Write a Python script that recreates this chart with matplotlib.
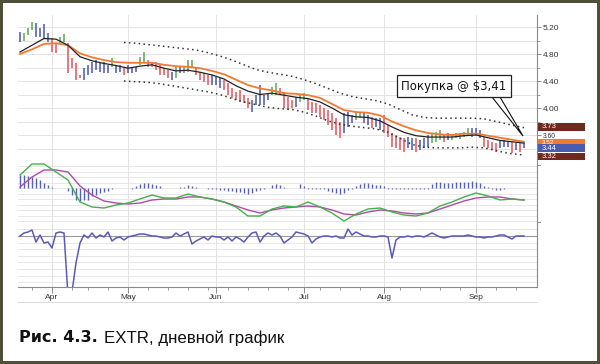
import matplotlib
matplotlib.use("Agg")
import matplotlib.pyplot as plt
import matplotlib.transforms as mtransforms
from matplotlib.patches import Rectangle, Polygon
from matplotlib.lines import Line2D

# ---------------- data ----------------
bar_high = [5.13, 5.11, 5.19, 5.27, 5.26, 5.19, 5.24, 5.11, 5.04, 4.96,
            5.05, 5.10, 4.96, 4.74, 4.67, 4.49, 4.59, 4.64, 4.68, 4.71,
            4.67, 4.68, 4.64, 4.74, 4.64, 4.64, 4.61, 4.64, 4.61, 4.61,
            4.76, 4.83, 4.71, 4.68, 4.68, 4.64, 4.59, 4.56, 4.53, 4.61,
            4.61, 4.61, 4.71, 4.71, 4.61, 4.53, 4.52, 4.49, 4.49, 4.46,
            4.46, 4.41, 4.37, 4.30, 4.24, 4.27, 4.19, 4.15, 4.12, 4.19,
            4.34, 4.19, 4.22, 4.31, 4.37, 4.30, 4.24, 4.16, 4.12, 4.16,
            4.19, 4.22, 4.15, 4.09, 4.07, 4.04, 4.00, 3.97, 3.93, 3.85,
            3.79, 3.93, 3.94, 3.90, 3.94, 3.94, 3.93, 3.90, 3.87, 3.85,
            3.85, 3.90, 3.75, 3.63, 3.60, 3.57, 3.56, 3.57, 3.56, 3.56,
            3.53, 3.56, 3.60, 3.63, 3.64, 3.67, 3.60, 3.63, 3.60, 3.63,
            3.63, 3.64, 3.70, 3.70, 3.70, 3.67, 3.57, 3.53, 3.50, 3.48,
            3.53, 3.53, 3.50, 3.50, 3.48, 3.48, 3.48]
bar_low = [4.98, 4.99, 5.08, 5.16, 5.05, 5.05, 5.02, 4.98, 4.83, 4.81,
           4.96, 4.98, 4.52, 4.59, 4.41, 4.44, 4.41, 4.49, 4.52, 4.56,
           4.53, 4.52, 4.52, 4.61, 4.52, 4.53, 4.49, 4.52, 4.52, 4.53,
           4.64, 4.67, 4.61, 4.61, 4.56, 4.49, 4.49, 4.44, 4.41, 4.44,
           4.52, 4.52, 4.53, 4.61, 4.49, 4.41, 4.39, 4.34, 4.34, 4.34,
           4.30, 4.27, 4.19, 4.15, 4.12, 4.09, 4.07, 4.00, 3.94, 4.04,
           4.04, 4.04, 4.12, 4.19, 4.19, 4.19, 4.00, 3.97, 4.00, 4.01,
           4.09, 4.12, 3.97, 3.93, 3.93, 3.87, 3.82, 3.75, 3.67, 3.60,
           3.56, 3.63, 3.72, 3.78, 3.82, 3.85, 3.78, 3.75, 3.70, 3.72,
           3.67, 3.63, 3.57, 3.42, 3.41, 3.38, 3.35, 3.41, 3.38, 3.35,
           3.38, 3.41, 3.42, 3.48, 3.50, 3.53, 3.50, 3.53, 3.53, 3.56,
           3.54, 3.57, 3.60, 3.57, 3.60, 3.56, 3.42, 3.41, 3.38, 3.35,
           3.41, 3.42, 3.42, 3.33, 3.38, 3.35, 3.41]
bar_color = list("BGGGBBBBRR" "GGRRRRBBBB" "BBBGBBRBBB" "GGRRRRRRBG"
                 "BGGGRRRRBB" "BRRRRRRRBB" "BBBGGRRRRB" "GGRRRRRRRR"
                 "RBBBGGBBRB" "BRRRRRRBBR" "BBBGGGRBGG" "GGGBBBRRRR"
                 "BBBRBRB")

# moving averages sampled every 3rd session
ma_days = list(range(0, 127, 3))
ma_fast = [4.83, 4.93, 5.03, 5.02, 4.93, 4.76, 4.70, 4.66, 4.63, 4.59,
           4.62, 4.64, 4.59, 4.55, 4.56, 4.53, 4.49, 4.43, 4.33, 4.25,
           4.20, 4.22, 4.19, 4.16, 4.14, 4.09, 4.00, 3.90, 3.87, 3.86,
           3.81, 3.72, 3.64, 3.59, 3.57, 3.57, 3.57, 3.59, 3.60, 3.56,
           3.52, 3.50, 3.48]
ma_slow = [4.80, 4.87, 4.95, 4.96, 4.93, 4.81, 4.75, 4.71, 4.68, 4.67,
           4.67, 4.67, 4.64, 4.62, 4.61, 4.59, 4.55, 4.50, 4.42, 4.34,
           4.29, 4.26, 4.22, 4.21, 4.19, 4.15, 4.06, 3.97, 3.94, 3.93,
           3.89, 3.80, 3.73, 3.67, 3.63, 3.61, 3.60, 3.62, 3.62, 3.59,
           3.56, 3.53, 3.50]

env_days = list(range(26, 127, 3)) + [126]
env_upper = [4.97, 4.96, 4.94, 4.92, 4.90, 4.88, 4.86, 4.82, 4.77, 4.71,
             4.64, 4.57, 4.53, 4.50, 4.47, 4.42, 4.36, 4.29, 4.22, 4.17,
             4.14, 4.11, 4.06, 3.98, 3.90, 3.86, 3.85, 3.85, 3.85, 3.85,
             3.84, 3.80, 3.76, 3.72, 3.71]
env_lower = [4.40, 4.39, 4.38, 4.36, 4.33, 4.30, 4.27, 4.24, 4.20, 4.14,
             4.09, 4.05, 4.01, 3.99, 3.98, 3.94, 3.88, 3.81, 3.76, 3.73,
             3.71, 3.69, 3.64, 3.55, 3.46, 3.42, 3.41, 3.41, 3.41, 3.42,
             3.41, 3.37, 3.33, 3.31, 3.30]

osc_fast = [0.13, 0.24, 0.24, 0.16, 0.08, -0.14, -0.19, -0.20, -0.17, -0.15,
            -0.11, -0.07, -0.10, -0.10, -0.06, -0.09, -0.11, -0.14, -0.19, -0.28,
            -0.28, -0.21, -0.18, -0.19, -0.14, -0.19, -0.25, -0.33, -0.26, -0.21,
            -0.20, -0.24, -0.27, -0.28, -0.25, -0.18, -0.14, -0.09, -0.05, -0.08,
            -0.12, -0.11, -0.12]
osc_slow = [0.01, 0.11, 0.18, 0.18, 0.16, 0.02, -0.07, -0.13, -0.15, -0.16,
            -0.15, -0.12, -0.11, -0.11, -0.09, -0.09, -0.11, -0.14, -0.18, -0.22,
            -0.25, -0.22, -0.20, -0.19, -0.18, -0.19, -0.22, -0.26, -0.27, -0.24,
            -0.22, -0.23, -0.25, -0.26, -0.25, -0.21, -0.17, -0.13, -0.10, -0.09,
            -0.09, -0.11, -0.12]
hist = [0.13, 0.13, 0.12, 0.11, 0.10, 0.08, 0.05, 0.03, 0.01, 0.005,
        0.005, 0.005, -0.03, -0.07, -0.12, -0.13, -0.12, -0.12, -0.08, -0.07,
        -0.05, -0.04, -0.03, -0.01, 0.005, 0.005, 0.005, 0.005, -0.005, 0.02,
        0.04, 0.05, 0.05, 0.04, 0.03, 0.02, 0.005, 0.005, 0.005, 0.005,
        0.01, 0.01, 0.03, 0.02, 0.01, 0.005, 0.005, -0.01, -0.01, -0.01,
        -0.02, -0.02, -0.03, -0.03, -0.04, -0.04, -0.05, -0.06, -0.05, -0.03,
        -0.02, -0.01, 0.005, 0.03, 0.04, 0.03, 0.01, 0.005, 0.005, 0.005,
        0.04, 0.02, -0.01, -0.01, -0.01, -0.01, -0.01, -0.03, -0.04, -0.05,
        -0.06, -0.05, -0.02, -0.005, 0.02, 0.04, 0.05, 0.05, 0.04, 0.03,
        0.03, 0.02, -0.005, -0.01, -0.01, -0.01, -0.01, -0.01, -0.01, -0.01,
        -0.005, -0.005, -0.005, 0.04, 0.06, 0.06, 0.05, 0.05, 0.05, 0.06,
        0.06, 0.06, 0.06, 0.07, 0.06, 0.05, 0.02, 0.01, -0.01, -0.02,
        -0.02, -0.01, 0.005, 0.005, 0.005, 0.005, 0.005]

roc = [0, 1.5, 2, 3, -3, 0.5, -3.5, -3, -6, 1.5,
       2, 1.5, -30, -28, -13.5, -3.5, 0.5, -1, 1.5, -1,
       0.5, -0.5, 2, -2.5, -1, -0.5, -2, -0.5, 0, 0.5,
       1, 1, 0.5, 0, 0, -0.5, -1, -1, -0.5, 1.5,
       0, 1, 2, -4, -2.5, -1.5, -0.5, -2, 0, -0.5,
       -0.5, -2, -0.5, -2.5, -0.5, -1.5, -3, -0.5, 1.5, 2,
       -3, 0, 1.5, 0.5, 1.5, 0, -3.5, -2, -0.5, 2,
       1.5, 1, 0, -3.5, -1.5, -0.5, 0, 0, -0.5, 0,
       -1, -1, 3.5, 0.5, 2, 1, 0, 0, -0.5, -0.5,
       0, 0, -0.5, -11, -2, -0.5, -0.5, 0, -0.5, 0,
       0, -0.5, 0.5, 1.5, 0.5, -0.5, -1, -0.5, 0, 0,
       0, 0, 0.5, 0, -0.5, -0.5, -1, -0.5, -0.5, 0,
       0.5, 0.5, -0.5, -1.5, 0, 0, 0]

month_days = [8, 27, 49, 71, 91, 114]
month_labels = ["Apr", "May", "Jun", "Jul", "Aug", "Sep"]
week_days = [3, 13, 17, 22, 32, 37, 42, 47, 52, 57, 62, 67, 75, 80, 85,
             95, 100, 105, 110, 119, 124]
price_ticks = [3.60, 4.00, 4.40, 4.80, 5.20]
price_minor = [3.40, 3.80, 4.20, 4.60, 5.00]
last_labels = [3.73, 3.52, 3.44, 3.32]
note_text = "Покупка @ $3,41"
caption_bold = "Рис. 4.3."
caption_rest = "EXTR, дневной график"

# ---------------- styling ----------------
W, H = 600, 364
plt.rcParams["font.family"] = ["Liberation Sans", "DejaVu Sans"]
fig = plt.figure(figsize=(W / 100, H / 100), dpi=100)
fig.patch.set_facecolor("white")


def frect(x0, y0, x1, y1):
    return [x0 / W, 1 - y1 / H, (x1 - x0) / W, (y1 - y0) / H]


ax1 = fig.add_axes(frect(18, 15, 537, 165))
ax2 = fig.add_axes(frect(18, 165, 537, 222))
ax3 = fig.add_axes(frect(18, 222, 537, 287))

XL = (-0.5, 129.25)
grid_c = "#e3e3e3"
axis_c = "#8a8a8a"
colmap = {"B": "#4a56aa", "R": "#e0545c", "G": "#55a955"}

for ax in (ax1, ax2, ax3):
    ax.set_xlim(*XL)
    ax.set_facecolor("none")
    for s in ("left", "top"):
        ax.spines[s].set_visible(False)
    ax.spines["right"].set_color(axis_c)
    ax.spines["right"].set_linewidth(0.8)
    ax.set_xticks(month_days)
    ax.grid(axis="x", color=grid_c, lw=0.7)
    ax.set_axisbelow(True)

for ax in (ax1, ax2):
    ax.spines["bottom"].set_visible(False)
    ax.tick_params(axis="x", length=0, labelbottom=False)

# ---- price panel ----
ax1.set_ylim(3.156, 5.378)
ax1.yaxis.tick_right()
ax1.set_yticks(price_ticks)
ax1.set_yticks(price_minor, minor=True)
ax1.set_yticklabels([f"{v:.2f}" for v in price_ticks])
ax1.tick_params(axis="y", which="major", labelsize=6, colors=axis_c,
                labelcolor="#333333", length=3, width=0.7, pad=1)
ax1.tick_params(axis="y", which="minor", colors=axis_c, length=2, width=0.6)
ax1.grid(axis="y", which="both", color=grid_c, lw=0.7)
# lowest tick label is squeezed between the value boxes
ax1.get_yticklabels()[0].set_fontsize(4.8)

cols = [colmap[c] for c in bar_color]
ax1.vlines(range(len(bar_high)), bar_low, bar_high, colors=cols, lw=1.1, zorder=3)
ax1.plot(env_days, env_upper, color="#333333", lw=1.1, ls=(0, (1, 2.2)), zorder=3)
ax1.plot(env_days, env_lower, color="#333333", lw=1.1, ls=(0, (1, 2.2)), zorder=3)
ax1.plot(ma_days, ma_slow, color="#f07a32", lw=1.3, zorder=4)
ax1.plot(ma_days, ma_fast, color="#222222", lw=0.9, zorder=4)

# price labels on right (box centre offset px, box height px, font size)
ytr = mtransforms.blended_transform_factory(ax1.transAxes, ax1.transData)
box_styles = [("#6e2a1c", 0.3, 8.0, 5.5), ("#f07a32", 1.6, 5.5, 4.6),
              ("#4a5cb0", 2.4, 7.6, 5.5), ("#6e2a1c", 2.6, 7.6, 5.5)]
for val, (fc, off, hpx, fs) in zip(last_labels, box_styles):
    tr = ytr + mtransforms.ScaledTranslation(0, -off / 100, fig.dpi_scale_trans)
    ax1.add_patch(Rectangle((1.0019, val - hpx / 2 / 67.5), 0.0906, hpx / 67.5,
                            transform=tr, facecolor=fc, edgecolor="none",
                            clip_on=False, zorder=6))
    ax1.text(1.009, val, f"{val:.2f}", transform=tr, color="white", fontsize=fs,
             va="center", ha="left", clip_on=False, zorder=7)

# annotation
ax1.add_patch(Polygon([(118, 4.163), (125.75, 3.585), (120, 4.163)], closed=True,
                      facecolor="white", edgecolor="#111111", lw=0.8, zorder=7))
ax1.text(108.5, 4.325, note_text, ha="center", va="center", fontsize=8.5,
         family="DejaVu Sans", color="#111111", zorder=8,
         bbox=dict(boxstyle="square,pad=0.4", fc="white", ec="#222222", lw=0.9))

# ---- oscillator panel ----
ax2.set_ylim(-0.34, 0.23)
ax2.set_yticks([0.22 - 0.055 * k for k in range(11)])
ax2.tick_params(axis="y", length=0, labelleft=False, labelright=False)
ax2.grid(axis="y", color=grid_c, lw=0.6)
ax2.vlines(range(len(hist)), 0, hist, colors="#5560b0", lw=1.0, zorder=3)
ax2.plot(ma_days, osc_slow, color="#b04aa8", lw=1.0, zorder=4, clip_on=False)
ax2.plot(ma_days, osc_fast, color="#45b04a", lw=1.0, zorder=4, clip_on=False)

# ---- ROC panel ----
ax3.set_ylim(-25.5, 7)
ax3.set_yticks([3.3 - 3.3 * k for k in range(9) if k != 1])
ax3.tick_params(axis="y", length=0, labelleft=False, labelright=False)
ax3.grid(axis="y", color=grid_c, lw=0.6)
ax3.axhline(0, color="#9a9a9a", lw=0.8, zorder=2)
ax3.plot(range(len(roc)), roc, color="#5a5ab8", lw=1.1, zorder=4)
ax3.spines["bottom"].set_color(axis_c)
ax3.spines["bottom"].set_linewidth(0.8)
ax3.set_xticklabels(month_labels)
ax3.set_xticks(week_days, minor=True)
ax3.tick_params(axis="x", which="major", length=4, width=0.7, colors=axis_c,
                labelcolor="#333333", labelsize=6, pad=1)
ax3.tick_params(axis="x", which="minor", length=2.5, width=0.6, colors=axis_c)

# panel separator ticks on right axis
for y_px in (165, 222):
    fig.add_artist(Line2D([537 / W, 540 / W], [1 - y_px / H] * 2, color=axis_c, lw=0.7))

# separator under dates
fig.add_artist(Line2D([18 / W, 537 / W], [1 - 301.5 / H] * 2, color="#dddddd", lw=0.8))

# caption
t1 = fig.text(19 / W, 1 - 338 / H, caption_bold, fontsize=11.5, fontweight="bold",
              family="DejaVu Sans", va="center", ha="left", color="#111111")
fig.canvas.draw()
bb = t1.get_window_extent()
fig.text((bb.x1 + 6) / W, 1 - 338 / H, caption_rest, fontsize=12.2,
         family="Liberation Sans", va="center", ha="left", color="#111111")

# outer frame
fig.add_artist(Rectangle((0, 0), 1, 1, transform=fig.transFigure, fill=False,
                         edgecolor="#4f4f38", lw=4.3))

fig.savefig("out.png", dpi=100)
